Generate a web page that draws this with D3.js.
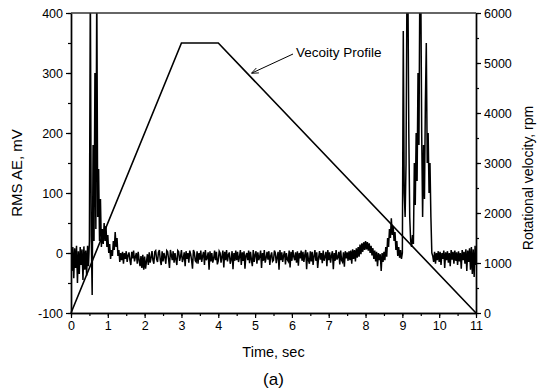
<!DOCTYPE html>
<html lang="en">
<head>
  <meta charset="UTF-8">
  <title>RMS AE and velocity profile</title>
  <script src="https://cdn.jsdelivr.net/npm/d3@7"></script>
  <style>
    body { margin: 0; background: #fff; }
    text { font-family: "Liberation Sans", Arial, sans-serif; fill: #000; }
  </style>
</head>
<body>
  <script>
    // AE signal sampled every 0.025 s, one row = 0.5 s (mV)
    const aeStep = 0.025
    const aeValues = [
      5, -30, 10, -42, 8, -25, 12, -50, 3, -35, 10, -20, 6, -45, 11, -28, 4, -38, 12, -22,
      20, 450, 30, -70, 180, 20, 300, 40, 450, 60, 140, 20, 90, 10, 40, 15, 50, 20, 45, 10,
      30, 0, 15, -10, 5, -5, 20, 5, 35, 10, 25, -5, 5, -15, 0, -12, 2, -18, 0, -10,
      3, -15, -4, 1, -12, -20, 2, -9, 4, -14, -6, 0, -18, 2, -12, -22, -5, -25, -3, -28,
      -6, -26, -14, -2, -20, 1, -16, -8, 3, -12, -18, 2, 4, -10, -15, 1, 5, -12, -20, 3,
      -14, 0, -7, -18, 4, 2, -10, -25, 5, -3, -12, 3, -16, 0, -11, -20, 4, 2, -13, -6,
      5, -15, -9, 1, -22, 3, -10, 0, -16, 4, -2, -12, -26, 5, 1, -13, -15, 3, -18, 0,
      -11, 4, -15, -5, 2, -20, 5, -12, -8, 1, -28, 3, -14, 0, -16, -9, 4, -12, 2, -19,
      -13, 3, 0, -16, -6, 4, -24, 2, -12, 5, -14, -3, 1, -18, -11, 3, -27, 0, -13, 4,
      -12, 2, -15, -7, 5, -20, 1, -13, 3, -26, -4, 0, -12, 4, -17, 2, -11, -22, 5, -15,
      -3, 3, -18, 1, -12, -6, 4, -25, 0, -13, 5, -16, -8, 2, -11, 3, -20, -5, 1, -14,
      -12, 4, 0, -17, -7, 2, -28, 5, -12, 1, -15, -4, 3, -19, 0, -11, -14, 4, -24, 2,
      -13, 5, -6, -12, 1, -16, 3, -21, 0, -9, 4, -13, 2, -15, -3, 5, -27, 1, -12, -18,
      3, -14, 2, -20, -5, 5, -13, 1, -25, -8, 3, -11, 0, -17, 4, -13, -6, 2, -22, 5,
      -12, 1, -16, -4, 3, -27, 0, -13, 5, -11, -7, 2, -19, 4, -12, -15, 1, -23, 3, -9,
      1, -13, 3, -12, 4, -18, 6, -10, 5, -14, 8, -8, 10, -6, 14, -2, 16, 2, 18, 5,
      20, 6, 18, 4, 16, 0, 12, -4, 8, -10, 4, -14, 2, -22, 0, -12, -2, -30, 0, -15,
      2, -12, 10, -6, 25, 10, 40, 25, 58, 30, 45, 20, 35, 5, 20, -5, 10, -8, 5, -10,
      0, 370, 100, 60, 150, 450, 450, 200, 60, 20, 10, 30, 15, 150, 80, 200, 120, 300, 180, 450,
      450, 200, 60, 180, 90, 250, 350, 150, 200, 100, 150, 60, 0, -5, -15, 2, -18, 0, -12, 3,
      -15, 2, -20, 0, -10, 4, -25, 1, -12, 3, -16, 0, -22, 5, -11, 2, -18, 4, -13, 1,
      -20, 3, -14, 0, -26, 5, -12, 2, -18, 6, -30, 4, -15, 8, -28, 10, -35, 6, -40, 12,
      -20
    ]

    // velocity profile (time in s, rpm)
    const velTimes = [0, 3, 4, 11]
    const velRpm = [0, 5400, 5400, 0]

    const xTicks = [0, 1, 2, 3, 4, 5, 6, 7, 8, 9, 10, 11]
    const aeTicks = [-100, 0, 100, 200, 300, 400]
    const rpmTicks = [0, 1000, 2000, 3000, 4000, 5000, 6000]

    const w = 540
    const h = 391
    const m = { top: 13, right: 64, bottom: 78, left: 71 }

    const x = d3.scaleLinear().domain([0, 11]).range([m.left, w - m.right])
    const y = d3.scaleLinear().domain([-100, 400]).range([h - m.bottom, m.top])
    const yR = d3.scaleLinear().domain([0, 6000]).range([h - m.bottom, m.top])

    const svg = d3.select('body').append('svg')
      .attr('width', w)
      .attr('height', h)

    const defs = svg.append('defs')
    defs.append('clipPath').attr('id', 'plot')
      .append('rect')
      .attr('x', m.left).attr('y', m.top)
      .attr('width', x(11) - m.left).attr('height', y(-100) - m.top)

    defs.append('marker')
      .attr('id', 'arrow')
      .attr('viewBox', '0 0 10 10')
      .attr('refX', 9).attr('refY', 5)
      .attr('markerWidth', 7).attr('markerHeight', 7)
      .attr('orient', 'auto')
      .append('path')
      .attr('d', 'M0,1 L10,5 L0,9')
      .attr('fill', 'none')
      .attr('stroke', '#000')
      .attr('stroke-width', 1.2)

    // AE signal
    const aeLine = d3.line()
      .x((d, i) => x(i * aeStep))
      .y(d => y(d))

    svg.append('path')
      .datum(aeValues)
      .attr('clip-path', 'url(#plot)')
      .attr('d', aeLine)
      .attr('fill', 'none')
      .attr('stroke', '#000')
      .attr('stroke-width', 1.5)

    // velocity profile
    const velLine = d3.line()
      .x(d => x(d[0]))
      .y(d => yR(d[1]))

    svg.append('path')
      .datum(velTimes.map((t, i) => [t, velRpm[i]]))
      .attr('d', velLine)
      .attr('fill', 'none')
      .attr('stroke', '#000')
      .attr('stroke-width', 1.6)

    // axes
    const fmt = d => String(d)
    const styleAxis = g => {
      g.select('.domain').attr('stroke', '#000').attr('stroke-width', 1.4)
      g.selectAll('.tick line').attr('stroke', '#000').attr('stroke-width', 1.2)
      g.selectAll('.tick text').style('font-size', '12.5px')
        .style('font-family', '"Liberation Sans", Arial, sans-serif')
    }

    const minor = (lo, hi, step) => d3.range(lo, hi + step / 2, step)

    // left
    svg.append('g')
      .attr('transform', `translate(${m.left},0)`)
      .call(d3.axisLeft(y).tickValues(minor(-100, 400, 50)).tickSize(3).tickFormat('').tickSizeOuter(0))
      .call(styleAxis)
    svg.append('g')
      .attr('transform', `translate(${m.left},0)`)
      .call(d3.axisLeft(y).tickValues(aeTicks).tickSize(5).tickPadding(3).tickFormat(fmt).tickSizeOuter(0))
      .call(styleAxis)

    // right
    svg.append('g')
      .attr('transform', `translate(${w - m.right},0)`)
      .call(d3.axisRight(yR).tickValues(minor(0, 6000, 500)).tickSize(3).tickFormat('').tickSizeOuter(0))
      .call(styleAxis)
    svg.append('g')
      .attr('transform', `translate(${w - m.right},0)`)
      .call(d3.axisRight(yR).tickValues(rpmTicks).tickSize(5).tickPadding(3).tickFormat(fmt).tickSizeOuter(0))
      .call(styleAxis)

    // bottom
    svg.append('g')
      .attr('transform', `translate(0,${h - m.bottom})`)
      .call(d3.axisBottom(x).tickValues(minor(0, 11, 0.5)).tickSize(3).tickFormat('').tickSizeOuter(0))
      .call(styleAxis)
    svg.append('g')
      .attr('transform', `translate(0,${h - m.bottom})`)
      .call(d3.axisBottom(x).tickValues(xTicks).tickSize(5).tickPadding(3).tickFormat(fmt).tickSizeOuter(0))
      .call(styleAxis)

    // top frame
    svg.append('line')
      .attr('x1', m.left).attr('x2', w - m.right)
      .attr('y1', m.top).attr('y2', m.top)
      .attr('stroke', '#333').attr('stroke-width', 1.4)

    // titles
    svg.append('text')
      .attr('transform', `translate(22,${(m.top + h - m.bottom) / 2 + 10}) rotate(-90)`)
      .attr('text-anchor', 'middle')
      .style('font-size', '15px')
      .text('RMS AE, mV')

    svg.append('text')
      .attr('transform', `translate(533,${(m.top + h - m.bottom) / 2 + 15}) rotate(-90)`)
      .attr('text-anchor', 'middle')
      .style('font-size', '14px')
      .text('Rotational velocity, rpm')

    svg.append('text')
      .attr('x', x(5.5)).attr('y', 357)
      .attr('text-anchor', 'middle')
      .style('font-size', '14.5px')
      .text('Time, sec')

    svg.append('text')
      .attr('x', x(5.5)).attr('y', 385)
      .attr('text-anchor', 'middle')
      .style('font-size', '17px')
      .text('(a)')

    // annotation
    svg.append('text')
      .attr('x', 296).attr('y', 57)
      .style('font-size', '13.5px')
      .text('Vecoity Profile')

    svg.append('line')
      .attr('x1', 293).attr('y1', 54)
      .attr('x2', 252).attr('y2', 73)
      .attr('stroke', '#000')
      .attr('stroke-width', 1)
      .attr('marker-end', 'url(#arrow)')
  </script>
</body>
</html>
